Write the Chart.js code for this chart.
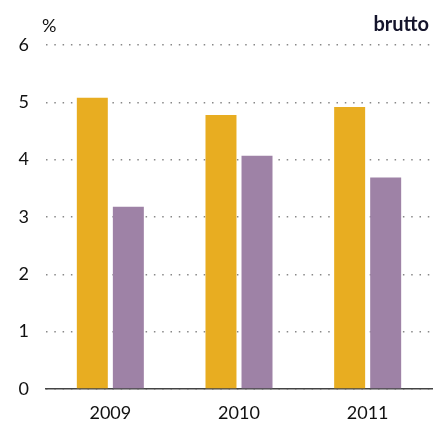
<!DOCTYPE html>
<html>
<head>
<meta charset="utf-8">
<script src="https://cdn.jsdelivr.net/npm/chart.js@4"></script>
<style>
    html, body { margin: 0; padding: 0; background: #fff; }
    #wrap { position: relative; width: 433px; height: 430px; }
    .lbl { position: absolute; font-family: Lato, sans-serif; color: #111; }
    #unit { left: 42px; top: 14px; font-size: 18px; }
    #tag { right: 4px; top: 11px; font-size: 20px; font-weight: bold; color: #14142b; }
</style>
</head>
<body>
<div id="wrap">
    <canvas id="chart" width="433" height="430"></canvas>
    <div class="lbl" id="unit">%</div>
    <div class="lbl" id="tag">brutto</div>
</div>
<script>
// data
const years = ['2009', '2010', '2011'];
const seriesA = [5.08, 4.78, 4.92];
const seriesB = [3.18, 4.07, 3.69];
const yTicks = [0, 1, 2, 3, 4, 5, 6];

const ctx = document.getElementById('chart').getContext('2d');
new Chart(ctx, {
    type: 'bar',
    data: {
        labels: years,
        datasets: [
            { data: seriesA, backgroundColor: '#E8AD21' },
            { data: seriesB, backgroundColor: '#9E82A6' }
        ]
    },
    options: {
        responsive: false,
        animation: false,
        layout: { padding: { top: 45, right: 1, left: 0, bottom: 6 } },
        plugins: { legend: { display: false }, tooltip: { enabled: false } },
        datasets: { bar: { categoryPercentage: 0.56, barPercentage: 0.86 } },
        scales: {
            x: {
                afterFit: s => { s.height = 35; },
                grid: { display: false },
                border: { display: true, color: '#444', width: 1.5 },
                ticks: { color: '#111', font: { family: 'Lato', size: 18 }, padding: 5 }
            },
            y: {
                min: 0,
                max: 6,
                afterFit: s => { s.width = 46; },
                afterBuildTicks: s => { s.ticks = yTicks.map(v => ({ value: v })); },
                grid: { color: '#888', lineWidth: 1.5, drawTicks: false },
                border: { display: false, dash: [1.5, 6.8] },
                ticks: { color: '#111', font: { family: 'Lato', size: 18 }, padding: 17 }
            }
        }
    }
});
</script>
</body>
</html>
